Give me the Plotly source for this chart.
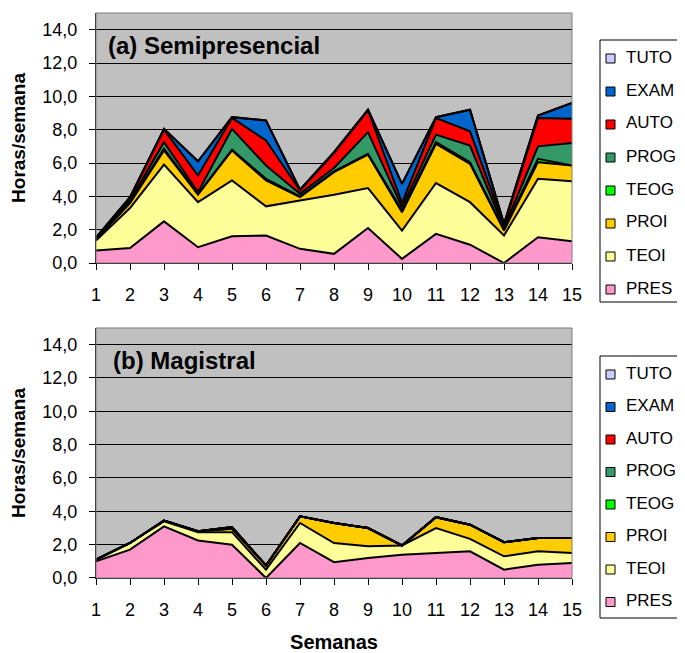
import plotly.graph_objects as go

weeks = list(range(1, 16))
series_names = ["PRES", "TEOI", "PROI", "TEOG", "PROG", "AUTO", "EXAM", "TUTO"]
colors = {"PRES": "#FF99CC", "TEOI": "#FFFF99", "PROI": "#FFCC00", "TEOG": "#00FF00",
          "PROG": "#339966", "AUTO": "#FF0000", "EXAM": "#0066CC", "TUTO": "#CCCCFF"}

# (a) Semipresencial
semi_PRES = [0.75, 0.9, 2.5, 0.95, 1.6, 1.65, 0.85, 0.55, 2.1, 0.25, 1.75, 1.1, 0.0, 1.55, 1.3]
semi_TEOI = [0.6, 2.4, 3.4, 2.7, 3.35, 1.75, 2.9, 3.55, 2.4, 1.7, 3.05, 2.55, 1.65, 3.5, 3.6]
semi_PROI = [0.05, 0.3, 0.85, 0.45, 1.8, 1.55, 0.2, 1.35, 2.0, 1.1, 2.35, 2.3, 0.3, 1.0, 0.95]
semi_TEOG = [0.02, 0.05, 0.1, 0.05, 0.05, 0.1, 0.05, 0.05, 0.05, 0.1, 0.1, 0.1, 0.05, 0.2, 0.0]
semi_PROG = [0.03, 0.1, 0.4, 0.1, 1.25, 0.8, 0.15, 0.2, 1.3, 0.2, 0.45, 1.0, 0.1, 0.75, 1.35]
semi_AUTO = [0.05, 0.15, 0.75, 1.0, 0.65, 1.5, 0.2, 0.9, 1.3, 0.25, 1.0, 0.85, 0.15, 1.7, 1.45]
semi_EXAM = [0.02, 0.05, 0.05, 0.85, 0.05, 1.2, 0.05, 0.05, 0.05, 1.15, 0.05, 1.3, 0.1, 0.15, 0.95]
semi_TUTO = [0.0] * 15

# (b) Magistral
mag_PRES = [1.0, 1.7, 3.1, 2.25, 2.0, 0.0, 2.1, 0.95, 1.2, 1.4, 1.5, 1.6, 0.5, 0.8, 0.9]
mag_TEOI = [0.1, 0.4, 0.3, 0.5, 0.75, 0.5, 1.2, 1.15, 0.7, 0.55, 1.5, 0.75, 0.8, 0.8, 0.6]
mag_PROI = [0.0, 0.0, 0.05, 0.05, 0.2, 0.25, 0.4, 1.2, 1.1, 0.0, 0.65, 0.85, 0.85, 0.8, 0.9]
mag_TEOG = [0.0] * 15
mag_PROG = [0.0, 0.0, 0.0, 0.0, 0.1, 0.0, 0.0, 0.0, 0.0, 0.0, 0.0, 0.0, 0.0, 0.0, 0.0]
mag_AUTO = [0.0] * 15
mag_EXAM = [0.0] * 15
mag_TUTO = [0.0] * 15

y_ticks = [0, 2, 4, 6, 8, 10, 12, 14]

semi = dict(PRES=semi_PRES, TEOI=semi_TEOI, PROI=semi_PROI, TEOG=semi_TEOG,
            PROG=semi_PROG, AUTO=semi_AUTO, EXAM=semi_EXAM, TUTO=semi_TUTO)
mag = dict(PRES=mag_PRES, TEOI=mag_TEOI, PROI=mag_PROI, TEOG=mag_TEOG,
           PROG=mag_PROG, AUTO=mag_AUTO, EXAM=mag_EXAM, TUTO=mag_TUTO)

FONT = "Liberation Sans, Arial, sans-serif"
fig = go.Figure()

for data, xa, ya, sg in [(semi, "x", "y", "a"), (mag, "x2", "y2", "b")]:
    for name in series_names:
        fig.add_trace(go.Scatter(
            x=weeks, y=data[name], name=name, mode="lines",
            stackgroup=sg, fillcolor=colors[name],
            line=dict(color="black", width=2),
            xaxis=xa, yaxis=ya, showlegend=False,
            hoverinfo="x+y+name",
        ))

axis_common_x = dict(range=[1, 15], tickmode="array", tickvals=weeks, ticks="outside",
                     ticklen=6, tickcolor="black", showline=True, linecolor="black",
                     linewidth=1, showgrid=False, zeroline=False, ticklabelstandoff=9,
                     tickfont=dict(family=FONT, size=18, color="black"))
axis_common_y = dict(range=[0, 15], tickmode="array", tickvals=y_ticks, tickformat=".1f",
                     ticks="outside", ticklen=6, tickcolor="black", showline=True,
                     linecolor="black", linewidth=1, showgrid=True, gridcolor="black",
                     gridwidth=1, zeroline=False, ticklabelstandoff=8,
                     tickfont=dict(family=FONT, size=18, color="black"),
                     title=dict(text="<b>Horas/semana</b>", font=dict(family=FONT, size=19, color="black"), standoff=13))

# the page body has an 8px margin; margins compensate so the plot areas land where the reference has them
fig.update_layout(
    width=677, height=645,
    margin=dict(l=88, r=113, t=5, b=75, autoexpand=False),
    paper_bgcolor="white", plot_bgcolor="#C0C0C0",
    separators=", ",
    font=dict(family=FONT, size=18, color="black"),
    xaxis=dict(axis_common_x, anchor="y", domain=[0, 1]),
    yaxis=dict(axis_common_y, anchor="x", domain=[0.5575, 1]),
    xaxis2=dict(axis_common_x, anchor="y2", domain=[0, 1],
                title=dict(text="<b>Semanas</b>", font=dict(family=FONT, size=20, color="black"), standoff=19)),
    yaxis2=dict(axis_common_y, anchor="x2", domain=[0, 0.4425]),
    showlegend=False,
)

# pixel -> paper helpers (plot area spans x 96..572, y 13..578 on the page)
PL, PR, PT, PB = 96, 572, 13, 578
def px(x):
    return (x - PL) / (PR - PL)
def py(y):
    return (PB - y) / (PB - PT)

# gray plot frames
for xr, yr in [("x domain", "y domain"), ("x2 domain", "y2 domain")]:
    fig.add_shape(type="rect", xref=xr, yref=yr, x0=0, x1=1, y0=0, y1=1,
                  line=dict(color="#808080", width=1), fillcolor="rgba(0,0,0,0)", layer="above")

# legends (drawn as boxes, swatches and text)
for top, bottom, first, step in [(40, 302, 57, 33.0), (356, 618, 373, 32.5)]:
    fig.add_shape(type="rect", xref="paper", yref="paper", x0=px(600), x1=px(700),
                  y0=py(bottom), y1=py(top), line=dict(color="black", width=1), fillcolor="white")
    for i, name in enumerate(reversed(series_names)):
        cy = first + i * step
        fig.add_shape(type="rect", xref="paper", yref="paper", x0=px(606), x1=px(615),
                      y0=py(cy + 6), y1=py(cy - 3), line=dict(color="black", width=1),
                      fillcolor=colors[name])
        fig.add_annotation(text=name, xref="paper", yref="paper", x=px(624), y=py(cy),
                           xanchor="left", yanchor="middle", showarrow=False,
                           font=dict(family=FONT, size=17, color="black"))

fig.add_annotation(text="<b>(a) Semipresencial</b>", xref="paper", yref="paper",
                   x=px(106), y=py(45), xanchor="left", yanchor="middle", showarrow=False,
                   font=dict(family=FONT, size=24, color="black"))
fig.add_annotation(text="<b>(b) Magistral</b>", xref="paper", yref="paper",
                   x=px(111), y=py(360), xanchor="left", yanchor="middle", showarrow=False,
                   font=dict(family=FONT, size=24, color="black"))

fig.write_html("out.html")
